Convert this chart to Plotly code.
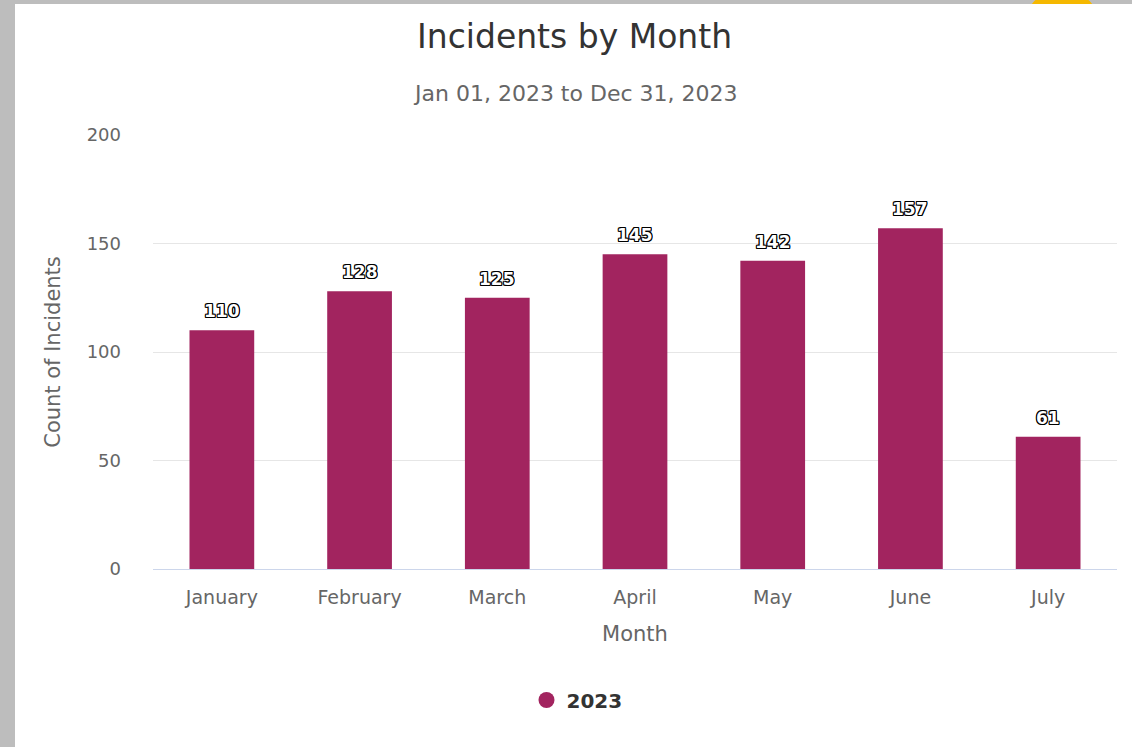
import plotly.graph_objects as go

months = ["January", "February", "March", "April", "May", "June", "July"]
counts = [110, 128, 125, 145, 142, 157, 61]
series_name = "2023"
y_ticks = [0, 50, 100, 150, 200]

W, H = 1132, 747
L, R, T, B = 153, 15, 135, 178
pw, ph = W - L - R, H - T - B

def px_x(p):
    return (p - L) / pw

def px_y(p):
    return (H - B - p) / ph

bar_color = "#A2245F"
font = "DejaVu Sans, sans-serif"

fig = go.Figure()
fig.add_trace(go.Bar(
    x=months, y=counts, name=series_name,
    marker=dict(color=bar_color, line=dict(width=0)),
    width=0.47, showlegend=False,
))
# legend marker trace
fig.add_trace(go.Scatter(
    x=[None], y=[None], mode="markers", name=series_name,
    marker=dict(color=bar_color, size=22, symbol="circle"),
    showlegend=True,
))

outline = ", ".join(f"{dx}px {dy}px 0 #000" for dx in (-1, 0, 1) for dy in (-1, 0, 1) if dx or dy)
annotations = []
for m, c in zip(months, counts):
    annotations.append(dict(
        x=m, y=c, xref="x", yref="y", text=f"<b>{c}</b>", showarrow=False,
        yanchor="middle", yshift=19,
        font=dict(family=font, size=17, color="white", shadow=outline),
    ))

cx = px_x(574.5)
annotations.append(dict(
    x=cx, y=px_y(37), xref="paper", yref="paper", text="Incidents by Month",
    showarrow=False, xanchor="center", yanchor="middle",
    font=dict(family=font, size=33, color="#333333"),
))
annotations.append(dict(
    x=cx, y=px_y(93), xref="paper", yref="paper", text="Jan 01, 2023 to Dec 31, 2023",
    showarrow=False, xanchor="center", yanchor="middle",
    font=dict(family=font, size=22, color="#666666"),
))

shapes = [
    dict(type="circle", xref="paper", yref="paper", layer="below",
         x0=px_x(1022), x1=px_x(1102), y0=px_y(70), y1=px_y(-10),
         fillcolor="#F5B800", line=dict(width=0)),
    dict(type="rect", xref="paper", yref="paper", layer="below",
         x0=px_x(15), x1=px_x(1140), y0=px_y(760), y1=px_y(4),
         fillcolor="white", line=dict(width=0)),
]

fig.update_layout(
    width=W, height=H,
    margin=dict(l=L, r=R, t=T, b=B, autoexpand=False),
    paper_bgcolor="#BDBDBD",
    plot_bgcolor="rgba(0,0,0,0)",
    font=dict(family=font, color="#666666"),
    annotations=annotations,
    shapes=shapes,
    legend=dict(orientation="h", x=px_x(577), xanchor="center",
                y=px_y(700), yanchor="middle",
                font=dict(family=font, size=20, color="#333333", weight="bold"),
                bgcolor="rgba(0,0,0,0)", itemsizing="trace"),
    xaxis=dict(
        title=dict(text="Month", font=dict(size=21, color="#666666"), standoff=19),
        tickfont=dict(size=19, color="#666666"),
        showline=True, linecolor="#CCD6EB", linewidth=1,
        ticks="", showgrid=False, ticklabelstandoff=11,
    ),
    yaxis=dict(
        title=dict(text="Count of Incidents", font=dict(size=21, color="#666666"), standoff=20),
        range=[0, 200], tickvals=y_ticks,
        tickfont=dict(size=18, color="#666666"),
        showgrid=True, gridcolor="#E6E6E6", gridwidth=1,
        zeroline=False, showline=False, ticks="", ticklabelstandoff=31,
    ),
)

fig.write_html("out.html", config={"displayModeBar": False},
               post_script="document.body.style.margin='0px';document.body.style.overflow='hidden';")
